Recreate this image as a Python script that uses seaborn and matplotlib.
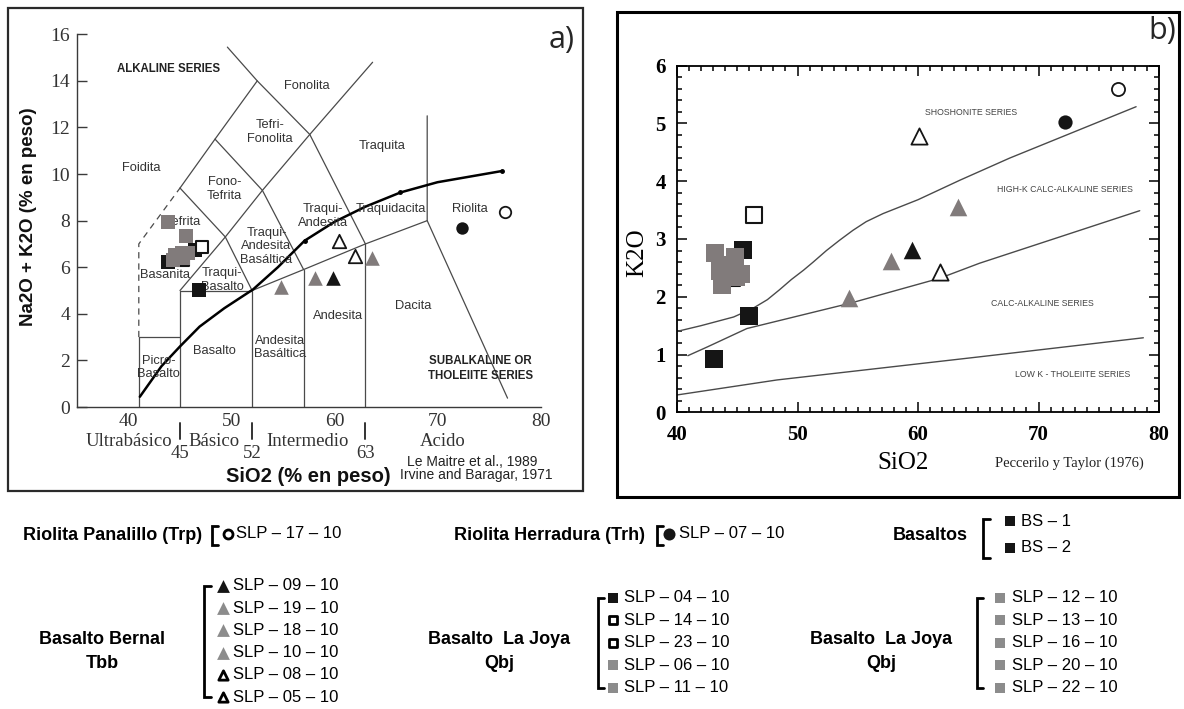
import matplotlib
matplotlib.use("Agg")
import matplotlib.pyplot as plt
import seaborn as sns
import pandas as pd
from matplotlib.patches import Rectangle
from matplotlib.ticker import MultipleLocator

# ------------------------------------------------------------------ data
# Riolita Panalillo (Trp)
trp_names = ["SLP – 17 – 10"]
trp_sio2_a = [76.6]; trp_alk = [8.38]
trp_sio2_b = [76.6]; trp_k2o = [5.59]
# Riolita Herradura (Trh)
trh_names = ["SLP – 07 – 10"]
trh_sio2_a = [72.4]; trh_alk = [7.67]
trh_sio2_b = [72.2]; trh_k2o = [5.02]
# Basaltos
bs_names = ["BS – 1", "BS – 2"]
bs_sio2_a = [43.86, 46.8]; bs_alk = [6.24, 5.02]
bs_sio2_b = [43.1, 46.0]; bs_k2o = [0.92, 1.67]
# Basalto Bernal (Tbb)
tbb_names = ["SLP – 09 – 10", "SLP – 19 – 10", "SLP – 18 – 10",
             "SLP – 10 – 10", "SLP – 08 – 10", "SLP – 05 – 10"]
tbb_black_sio2_a = [59.9]; tbb_black_alk = [5.55]
tbb_black_sio2_b = [59.5]; tbb_black_k2o = [2.81]
tbb_gray_sio2_a = [54.8, 58.1, 63.6]; tbb_gray_alk = [5.15, 5.55, 6.41]
tbb_gray_sio2_b = [54.3, 57.8, 63.35]; tbb_gray_k2o = [1.98, 2.62, 3.56]
tbb_open_sio2_a = [60.4, 62.0]; tbb_open_alk = [7.14, 6.5]
tbb_open_sio2_b = [60.1, 61.8]; tbb_open_k2o = [4.78, 2.43]
# Basalto La Joya (Qbj) 1
qbj1_names = ["SLP – 04 – 10", "SLP – 14 – 10", "SLP – 23 – 10",
              "SLP – 06 – 10", "SLP – 11 – 10"]
# Basalto La Joya (Qbj) 2
qbj2_names = ["SLP – 12 – 10", "SLP – 13 – 10", "SLP – 16 – 10",
              "SLP – 20 – 10", "SLP – 22 – 10"]
qbj_black_sio2_a = [46.46]; qbj_black_alk = [6.74]
qbj_black_sio2_b = [45.5]; qbj_black_k2o = [2.81]
qbj_open_sio2_a = [47.1, 45.3]; qbj_open_alk = [6.88, 6.3]
qbj_open_sio2_b = [46.4, 44.6]; qbj_open_k2o = [3.42, 2.32]
qbj_gray_sio2_a = [43.86, 45.58, 44.5, 45.16, 45.8, 44.35, 45.3]
qbj_gray_alk = [7.95, 7.34, 6.52, 6.6, 6.6, 6.31, 6.38]
qbj_gray_sio2_b = [43.15, 44.8, 43.6, 45.3, 44.4, 43.7, 44.9]
qbj_gray_k2o = [2.75, 2.68, 2.45, 2.40, 2.55, 2.2, 2.35]

# TAS field boundaries (Le Maitre et al., 1989)
tas_solid = [
    [(41, 0), (41, 3), (45, 3)],
    [(45, 0), (45, 5), (52, 5), (52, 0)],
    [(52, 5), (57, 5.9), (63, 7), (69, 8)],
    [(57, 0), (57, 5.9)],
    [(63, 0), (63, 7)],
    [(69, 12.5), (69, 8), (76.8, 0.38)],
    [(45, 5), (49.4, 7.3), (53, 9.3), (57.6, 11.7), (63.7, 14.8)],
    [(45, 9.4), (49.4, 7.3), (52, 5)],
    [(48.4, 11.5), (53, 9.3), (57, 5.9)],
    [(49.6, 15.45), (52.5, 14), (57.6, 11.7), (63, 7)],
    [(45, 9.4), (48.4, 11.5), (52.5, 14)],
]
tas_dashed = [(41, 3), (41, 7), (45, 9.4)]
# Irvine & Baragar (1971) alkaline / subalkaline divide
ib_sio2 = [41.1, 43.2, 45.0, 46.9, 49.3, 52.1, 54.5, 57.1, 60.0, 63.0, 66.4, 70.0, 76.25]
ib_alk = [0.44, 1.75, 2.6, 3.45, 4.24, 5.05, 6.0, 7.14, 7.95, 8.6, 9.21, 9.65, 10.13]
ib_dot_sio2 = [57.1, 66.4, 76.25]; ib_dot_alk = [7.14, 9.21, 10.13]

tas_fields = [
    ("Foidita", 41.2, 10.27), ("Fonolita", 57.3, 13.8),
    ("Tefri-\nFonolita", 53.7, 11.8), ("Traquita", 64.6, 11.2),
    ("Fono-\nTefrita", 49.3, 9.36), ("Tefrita", 45.3, 7.95),
    ("Traqui-\nAndesita", 58.9, 8.2), ("Traquidacita", 65.5, 8.5),
    ("Riolita", 73.1, 8.5), ("Traqui-\nAndesita\nBasáltica", 53.4, 6.9),
    ("Basanita", 43.5, 5.67), ("Traqui-\nBasalto", 49.1, 5.45),
    ("Dacita", 67.6, 4.33), ("Andesita", 60.3, 3.9),
    ("Basalto", 48.3, 2.42), ("Andesita\nBasáltica", 54.7, 2.55),
    ("Picro-\nBasalto", 42.9, 1.69),
]

# Peccerillo & Taylor (1976) boundaries
pt_upper_sio2 = [40.0, 42.0, 44.7, 46.3, 47.5, 48.5, 49.5, 50.5, 51.3, 52.4,
                 53.5, 54.6, 55.7, 57.1, 60.0, 63.5, 67.6, 78.1]
pt_upper_k2o = [1.4, 1.5, 1.65, 1.8, 1.95, 2.12, 2.3, 2.46, 2.6, 2.8,
                2.98, 3.15, 3.3, 3.44, 3.68, 4.02, 4.4, 5.29]
pt_mid_sio2 = [40.9, 42.5, 45.8, 54.4, 61.8, 65.1, 78.4]
pt_mid_k2o = [0.98, 1.13, 1.45, 1.89, 2.32, 2.58, 3.49]
pt_low_sio2 = [40.0, 48.3, 65.1, 78.7]
pt_low_k2o = [0.3, 0.56, 0.96, 1.29]
pt_series = [("SHOSHONITE SERIES", 64.4, 5.19),
             ("HIGH-K CALC-ALKALINE SERIES", 72.2, 3.85),
             ("CALC-ALKALINE SERIES", 70.3, 1.89),
             ("LOW K - THOLEIITE SERIES", 72.8, 0.65)]

# ------------------------------------------------------------------ style
sns.set_theme(style="white")
plt.rcParams["font.family"] = ["Liberation Sans", "DejaVu Sans"]
SERIF = ["Liberation Serif", "DejaVu Serif"]
GRAY = "#817b7b"
LGRAY = "#8c8c8c"
BLACK = "#151515"

W, H = 1184, 709
fig = plt.figure(figsize=(W / 100, H / 100), dpi=100)
fig.patch.set_facecolor("white")

ov = fig.add_axes([0, 0, 1, 1])
ov.set_xlim(0, W); ov.set_ylim(H, 0); ov.axis("off")
ov.add_patch(Rectangle((8, 8), 575, 483, fill=False, lw=1.6, ec="#2a2a2a"))
ov.add_patch(Rectangle((617, 12), 562, 485, fill=False, lw=2.2, ec="black"))

axa = fig.add_axes([77 / W, 1 - 407 / H, 463.5 / W, (407 - 34.3) / H])
axb = fig.add_axes([677 / W, 1 - 412.3 / H, 482 / W, 346.6 / H])


def scatter(ax, x, y, marker, face, edge, size, lw=0.0, z=3):
    sns.scatterplot(x=x, y=y, marker=marker, s=size, color=face,
                    edgecolor=edge, linewidth=lw, ax=ax, zorder=z, legend=False)


def draw_samples(ax, panel, sq, tri, circ):
    if panel == "a":
        d = dict(
            qbj_black=(qbj_black_sio2_a, qbj_black_alk), bs=(bs_sio2_a, bs_alk),
            qbj_open=(qbj_open_sio2_a, qbj_open_alk), qbj_gray=(qbj_gray_sio2_a, qbj_gray_alk),
            tbb_gray=(tbb_gray_sio2_a, tbb_gray_alk), tbb_black=(tbb_black_sio2_a, tbb_black_alk),
            tbb_open=(tbb_open_sio2_a, tbb_open_alk), trh=(trh_sio2_a, trh_alk),
            trp=(trp_sio2_a, trp_alk))
    else:
        d = dict(
            qbj_black=(qbj_black_sio2_b, qbj_black_k2o), bs=(bs_sio2_b, bs_k2o),
            qbj_open=(qbj_open_sio2_b, qbj_open_k2o), qbj_gray=(qbj_gray_sio2_b, qbj_gray_k2o),
            tbb_gray=(tbb_gray_sio2_b, tbb_gray_k2o), tbb_black=(tbb_black_sio2_b, tbb_black_k2o),
            tbb_open=(tbb_open_sio2_b, tbb_open_k2o), trh=(trh_sio2_b, trh_k2o),
            trp=(trp_sio2_b, trp_k2o))
    scatter(ax, *d["qbj_black"], "s", BLACK, BLACK, sq, z=3)
    scatter(ax, *d["bs"], "s", BLACK, BLACK, sq, z=3)
    scatter(ax, *d["qbj_open"], "s", "white", BLACK, sq * 0.85, lw=1.5, z=4)
    scatter(ax, *d["qbj_gray"], "s", GRAY, GRAY, sq, z=5)
    scatter(ax, *d["tbb_gray"], "^", GRAY, GRAY, tri, z=5)
    scatter(ax, *d["tbb_black"], "^", BLACK, BLACK, tri, z=5)
    scatter(ax, *d["tbb_open"], "^", "white", BLACK, tri * 0.85, lw=1.3, z=5)
    scatter(ax, *d["trh"], "o", BLACK, BLACK, circ, z=5)
    scatter(ax, *d["trp"], "o", "white", BLACK, circ * 0.85, lw=1.3, z=5)


# ------------------------------------------------------------------ panel a
axa.set_facecolor("white")
for seg in tas_solid:
    xs, ys = zip(*seg)
    axa.plot(xs, ys, color="#4a4a4a", lw=0.9, zorder=1)
xs, ys = zip(*tas_dashed)
axa.plot(xs, ys, color="#4a4a4a", lw=0.9, ls=(0, (5, 4)), zorder=1)
sns.lineplot(x=ib_sio2, y=ib_alk, sort=False, estimator=None, color="black",
             lw=1.8, ax=axa, zorder=2)
axa.plot(ib_dot_sio2, ib_dot_alk, "o", ms=2.5, color="black", zorder=2)

for txt, x, y in tas_fields:
    axa.text(x, y, txt, ha="center", va="center", fontsize=9.3, color="#333333",
             linespacing=1.15, zorder=2)
axa.text(43.9, 14.5, "ALKALINE SERIES", ha="center", va="center",
         fontsize=8.3, fontweight="bold", color="#222222")
axa.text(74.2, 1.66, "SUBALKALINE OR\nTHOLEIITE SERIES", ha="center", va="center",
         fontsize=8.3, fontweight="bold", color="#222222", linespacing=1.3)

draw_samples(axa, "a", sq=88, tri=110, circ=80)

axa.set_xlim(35, 80)
axa.set_ylim(0, 16)
sns.despine(ax=axa)
for s in ("left", "bottom"):
    axa.spines[s].set_color("#3a3a3a"); axa.spines[s].set_linewidth(1.0)
axa.set_yticks(range(0, 17, 2))
axa.set_xticks(range(40, 81, 10))
axa.tick_params(axis="y", direction="in", length=7, width=1.0, color="#3a3a3a",
                pad=5, labelsize=14, left=True)
axa.tick_params(axis="x", length=0, pad=4, labelsize=14, bottom=True)
for lab in axa.get_xticklabels() + axa.get_yticklabels():
    lab.set_family(SERIF); lab.set_color("#333333")

xtr = axa.get_xaxis_transform()
AH = 407 - 34.3
def fy(py):
    return (407 - py) / AH
for x, name in [(40.0, "Ultrabásico"), (48.35, "Básico"), (57.4, "Intermedio"), (70.5, "Acido")]:
    axa.text(x, fy(441), name, transform=xtr, ha="center", va="center",
             fontsize=13.5, family=SERIF, color="#333333")
for x in (45, 52, 63):
    axa.plot([x, x], [fy(423), fy(439)], transform=xtr, color="#333333", lw=1.4,
             clip_on=False)
    axa.text(x, fy(454), str(x), transform=xtr, ha="center", va="center",
             fontsize=13.5, family=SERIF, color="#333333")
axa.text(73.35, fy(462), "Le Maitre et al., 1989", transform=xtr, ha="center",
         va="center", fontsize=10, color="#222222")
axa.text(73.8, fy(475), "Irvine and Baragar, 1971", transform=xtr, ha="center",
         va="center", fontsize=10, color="#222222")
axa.set_xlabel("SiO2 (% en peso)", fontsize=14.5, fontweight="bold", va="center",
               color="#111111")
axa.xaxis.set_label_coords(0.50, fy(477))
axa.set_ylabel("Na2O + K2O (% en peso)", fontsize=13.5, fontweight="bold",
               va="center", color="#111111")
axa.yaxis.set_label_coords((29 - 77) / 463.5, fy(217))

# ------------------------------------------------------------------ panel b
for xs, ys in [(pt_upper_sio2, pt_upper_k2o), (pt_mid_sio2, pt_mid_k2o),
               (pt_low_sio2, pt_low_k2o)]:
    sns.lineplot(x=xs, y=ys, sort=False, estimator=None, color="#4a4a4a",
                 lw=1.0, ax=axb, zorder=1)
for txt, x, y in pt_series:
    axb.text(x, y, txt, ha="center", va="center", fontsize=6.3, color="#444444")
draw_samples(axb, "b", sq=150, tri=160, circ=105)

axb.set_xlim(40, 80)
axb.set_ylim(0, 6)
axb.set_xticks(range(40, 81, 10))
axb.set_yticks(range(0, 7))
axb.xaxis.set_minor_locator(MultipleLocator(1))
axb.yaxis.set_minor_locator(MultipleLocator(0.2))
axb.tick_params(which="both", direction="in", top=True, right=True,
                bottom=True, left=True, color="black", width=1.1)
axb.tick_params(which="major", length=7)
axb.tick_params(which="minor", length=3.5)
axb.tick_params(axis="x", which="major", pad=9, labelsize=15)
axb.tick_params(axis="y", which="major", pad=8, labelsize=15)
for lab in axb.get_xticklabels() + axb.get_yticklabels():
    lab.set_family(SERIF); lab.set_fontweight("bold"); lab.set_color("black")
for s in axb.spines.values():
    s.set_color("black"); s.set_linewidth(1.3)
BH = 346.6
def gy(py):
    return (412.3 - py) / BH
axb.set_xlabel("SiO2", fontsize=18, family=SERIF, va="center", color="black")
axb.xaxis.set_label_coords((903 - 677) / 482, gy(463))
axb.set_ylabel("K2O", fontsize=18, family=SERIF, va="center", color="black")
axb.yaxis.set_label_coords((637 - 677) / 482, gy(253))
axb.text((1069 - 677) / 482, gy(463), "Peccerilo y Taylor (1976)",
         transform=axb.transAxes, ha="center", va="center", fontsize=10.5,
         family=SERIF, color="#222222")

# panel tags
ov.text(562, 40, "a)", fontsize=22, ha="center", va="center", family=["Open Sans", "DejaVu Sans"])
ov.text(1162, 31, "b)", fontsize=22, ha="center", va="center", family=["Open Sans", "DejaVu Sans"])

# ------------------------------------------------------------------ legend
def bracket(x, y0, y1, hook=6, lw=2.0):
    ov.plot([x + hook, x, x, x + hook], [y0, y0, y1, y1], color="black", lw=lw,
            solid_joinstyle="miter")

def item(x, y, marker, face, edge, size, text, lw=0.0, tx=None):
    ov.scatter([x], [y], marker=marker, s=size, c=face, edgecolors=edge,
               linewidths=lw, zorder=3)
    ov.text(x + 11 if tx is None else tx, y, text, ha="left", va="center",
            fontsize=12, color="black")

BOLD = dict(fontsize=13, fontweight="bold", color="black", va="center")

# row 1
ov.text(23, 535, "Riolita Panalillo (Trp)", ha="left", **BOLD)
bracket(212, 526, 545)
item(228, 534, "o", "white", "black", 42, trp_names[0], lw=2.0, tx=236)
ov.text(454, 535, "Riolita Herradura (Trh)", ha="left", **BOLD)
bracket(657, 526, 545)
item(669, 534, "o", BLACK, BLACK, 75, trh_names[0], tx=679)
ov.text(893, 535, "Basaltos", ha="left", **BOLD)
bracket(983, 519, 558, hook=7)
item(1010, 521, "s", BLACK, BLACK, 60, bs_names[0], tx=1021)
item(1010, 548, "s", BLACK, BLACK, 60, bs_names[1], tx=1021)

# row 2 : Basalto Bernal
ov.text(102, 640, "Basalto Bernal", ha="center", **BOLD)
ov.text(102, 663, "Tbb", ha="center", **BOLD)
bracket(204, 586, 697, hook=7)
tbb_marks = [("^", BLACK, BLACK, 0), ("^", LGRAY, LGRAY, 0), ("^", LGRAY, LGRAY, 0),
             ("^", LGRAY, LGRAY, 0), ("^", "white", "black", 2.0), ("^", "white", "black", 2.0)]
for i, (name, (m, f, e, lw)) in enumerate(zip(tbb_names, tbb_marks)):
    item(223, 586 + i * 22.2, m, f, e, 85 if lw == 0 else 45, name, lw=lw, tx=233)

# row 2 : Basalto La Joya (1)
ov.text(499, 640, "Basalto  La Joya", ha="center", **BOLD)
ov.text(499, 663, "Qbj", ha="center", **BOLD)
bracket(598, 598, 688, hook=6)
qbj1_marks = [("s", BLACK, BLACK, 0), ("s", "white", "black", 2.0),
              ("s", "white", "black", 2.0), ("s", LGRAY, LGRAY, 0), ("s", LGRAY, LGRAY, 0)]
for i, (name, (m, f, e, lw)) in enumerate(zip(qbj1_names, qbj1_marks)):
    item(613, 598 + i * 22.4, m, f, e, 60 if lw == 0 else 38, name, lw=lw, tx=624)

# row 2 : Basalto La Joya (2)
ov.text(881, 640, "Basalto  La Joya", ha="center", **BOLD)
ov.text(881, 663, "Qbj", ha="center", **BOLD)
bracket(977, 598, 688, hook=6)
for i, name in enumerate(qbj2_names):
    item(1000, 598 + i * 22.4, "s", LGRAY, LGRAY, 60, name, tx=1012)

fig.savefig("out.png", dpi=100, facecolor="white")
